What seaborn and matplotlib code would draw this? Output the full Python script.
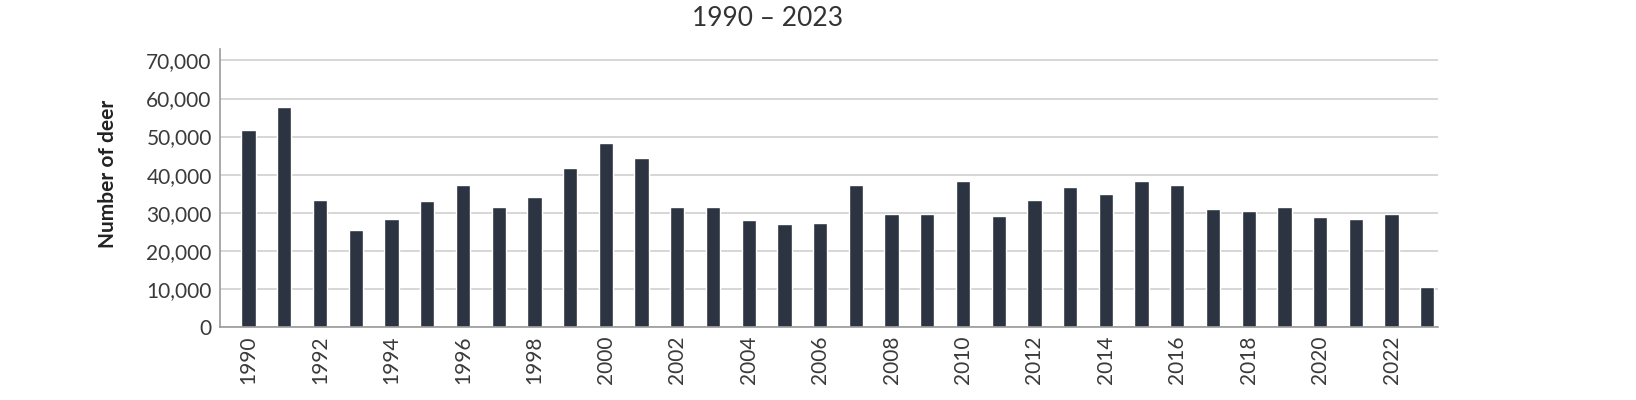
import numpy as np
import pandas as pd
import matplotlib.pyplot as plt
import seaborn as sns
from matplotlib.ticker import FuncFormatter

sns.set_theme(style="whitegrid")
plt.rcParams['font.family'] = ['Lato', 'DejaVu Sans']

# deer counts
years = list(range(1990, 2024))
deer = [51800, 57800, 33400, 25600, 28400, 33200, 37200, 31500, 34200, 41800,
        48400, 44400, 31600, 31600, 28200, 27100, 27300, 37400, 29800, 29800,
        38400, 29200, 33400, 36700, 34900, 38400, 37400, 31000, 30500, 31400,
        28900, 28300, 29600, 10600]
title_text = "1990 \u2013 2023"
y_label = "Number of deer"

df = pd.DataFrame({"year": [str(y) for y in years], "deer": deer})

fig = plt.figure(figsize=(16.36, 4.0), dpi=100)
ax = fig.add_axes([0.1345, 0.1825, 0.7445, 0.695])

sns.barplot(x="year", y="deer", data=df, color="#2b3440", width=0.4,
            saturation=1, ax=ax)

ax.set_ylim(0, 73000)
ax.set_xlim(-0.8, 33.3)
ax.set_yticks(range(0, 70001, 10000))
ax.yaxis.set_major_formatter(FuncFormatter(lambda v, p: f"{int(v):,}"))
ax.set_xticks(range(0, len(years), 2))
ax.set_xticklabels([str(y) for y in years[::2]], rotation=90)

ax.tick_params(axis="both", labelsize=15, colors="#3a3a3a", length=0, pad=6)
ax.grid(axis="y", color="#cfcfcf", linewidth=1.2)
ax.grid(axis="x", visible=False)
for side in ["top", "right"]:
    ax.spines[side].set_visible(False)
for side in ["left", "bottom"]:
    ax.spines[side].set_color("#9a9a9a")
    ax.spines[side].set_linewidth(1.2)

ax.set_xlabel("")
ax.set_ylabel(y_label, fontsize=15, fontweight="bold", color="#222222")
ax.yaxis.set_label_coords(-0.084, 0.55)

fig.text(0.469, 0.953, title_text, ha="center", va="center", fontsize=19, color="#333333")

plt.savefig("out.png", dpi=100)
